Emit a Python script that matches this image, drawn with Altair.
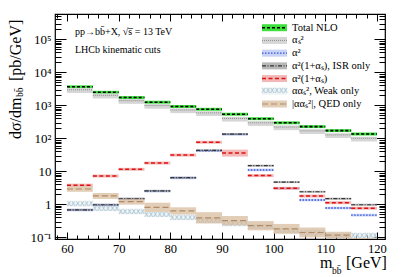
import altair as alt
import pandas as pd

# ---------------- data ----------------
bin_lo = [60, 65, 70, 75, 80, 85, 90, 95, 100, 105, 110, 115]
bin_hi = [65, 70, 75, 80, 85, 90, 95, 100, 105, 110, 115, 120]

total_nlo = [3640, 2480, 1720, 1240, 920, 757, 537, 393, 295, 226, 171, 135]
alphas2 = [2950, 2010, 1380, 980, 720, 590, 400, 295, 220, 168, 127, 100]
alpha2 = [0.67, 0.95, 1.45, 2.5, 6.3, 42, 132, 11, 3.05, 1.35, 0.77, 0.47]
isr_only = [0.68, 0.97, 1.48, 2.55, 6.4, 43, 134, 14.8, 4.7, 2.4, 1.48, 0.97]
alpha2_nlo = [3.8, 7.2, 11.5, 17.8, 31, 76, 36, 7.4, 3.05, 1.78, 1.12, 0.76]
weak_only = [0.99, 0.72, 0.58, 0.49, 0.385, 0.31, 0.25, 0.205, 0.155, 0.135, 0.11, 0.11]
qed_only = [2.91, 1.79, 1.2, 0.81, 0.63, 0.39, 0.32, 0.225, 0.18, 0.14, 0.117, 0.075]

# band half-widths (in decades) : (up, down)
total_err = ([0.045] * 12, [0.045] * 12)
alphas2_err = ([0.05] * 12, [0.095] * 12)
alpha2_err = ([0.04] * 12, [0.04] * 12)
isr_err = ([0.03] * 12, [0.03] * 12)
alpha2_nlo_err = ([0.045] * 6 + [0.1] + [0.045] * 5, [0.045] * 6 + [0.11] + [0.045] * 5)
weak_err = ([0.07] * 12, [0.07] * 12)
qed_err = ([0.085, 0.09, 0.09, 0.14, 0.11, 0.17, 0.14, 0.14, 0.15, 0.15, 0.1, 0.1],
           [0.085, 0.09, 0.09, 0.14, 0.11, 0.17, 0.14, 0.14, 0.15, 0.15, 0.1, 0.1])

legend_labels = ["Total NLO", "αₛ²", "α²", "α²(1+αₛ), ISR only", "α²(1+αₛ)",
                 "ααₛ², Weak only", "|ααₛ²|, QED only"]

x_major = [60, 70, 80, 90, 100, 110, 120]
x_minor = [58, 62, 64, 66, 68, 72, 74, 76, 78, 82, 84, 86, 88, 92, 94, 96, 98,
           102, 104, 106, 108, 112, 114, 116, 118]
y_major = [0.1, 1, 10, 100, 1000, 10000, 100000]
y_label_text = {0.1: "10⁻¹", 1: "1", 10: "10", 100: "10²", 1000: "10³",
                10000: "10⁴", 100000: "10⁵"}

# ---------------- layout ----------------
W, H = 330, 225
FONT = "Liberation Serif"
xscale = alt.Scale(domain=[57.68, 121.55], nice=False, zero=False)
yscale = alt.Scale(type="log", domain=[0.0888, 5.85e5], nice=False)
PXS = alt.Scale(domain=[0, W], range=[0, W])
PYS = alt.Scale(domain=[0, H], range=[0, H])

y_minor = []
for e in range(-1, 6):
    for k in range(2, 10):
        v = round(k * 10 ** e, 6)
        if v < 5.85e5:
            y_minor.append(v)


def frame(name, vals, err):
    up, dn = err
    return pd.DataFrame({
        "series": name,
        "lo": bin_lo, "hi": bin_hi, "val": vals,
        "blo": [v / 10 ** d for v, d in zip(vals, dn)],
        "bhi": [v * 10 ** u for v, u in zip(vals, up)],
    })


series = [
    # name, values, err, band colour, band opacity, line colour, dash, line width
    ("Total NLO", total_nlo, total_err, "#3ee03e", 1.0, "#000000", [3, 2], 1.6),
    ("αₛ²", alphas2, alphas2_err, "#d6d6d6", 1.0, "#8a8a8a", [1, 1], 1.0),
    ("α²", alpha2, alpha2_err, "#bcc8f4", 0.8, "#3355dd", [1.5, 1.5], 1.4),
    ("ISR", isr_only, isr_err, "#9a9a9a", 0.7, "#333333", [4, 1.5, 1, 1.5], 1.2),
    ("red", alpha2_nlo, alpha2_nlo_err, "#eea0a0", 0.75, "#dd1111", [4, 2.5], 1.5),
    ("QED", qed_only, qed_err, "#d8bc9f", 0.75, "#b08a66", [6, 3], 1.2),
]

X = lambda f, **kw: alt.X(f, scale=xscale, **kw)
Y = lambda f, **kw: alt.Y(f, scale=yscale, **kw)

layers = []
for name, vals, err, bcol, bop, lcol, dash, lw in series:
    df = frame(name, vals, err)
    base = alt.Chart(df)
    layers.append(base.mark_rect(color=bcol, opacity=bop, clip=True).encode(
        x=X("lo:Q", axis=None), x2="hi:Q", y=Y("blo:Q", axis=None), y2="bhi:Q"))
    layers.append(base.mark_rule(color=lcol, strokeDash=dash, strokeWidth=lw, clip=True).encode(
        x=X("lo:Q", axis=None), x2="hi:Q", y=Y("val:Q", axis=None)))
    if name == "red":
        wdf = frame("weak", weak_only, weak_err)
        wdf["mid"] = [(a + b) / 2 for a, b in zip(bin_lo, bin_hi)]
        wdf["hatch"] = "XXXXXX"
        wb = alt.Chart(wdf)
        layers.append(wb.mark_rect(color="#dce8ee", opacity=0.5, clip=True).encode(
            x=X("lo:Q", axis=None), x2="hi:Q", y=Y("blo:Q", axis=None), y2="bhi:Q"))
        layers.append(wb.mark_text(font="DejaVu Sans Mono", fontSize=7.3, color="#a3bfcd",
                                   baseline="middle", clip=True).encode(
            x=X("mid:Q", axis=None), y=Y("val:Q", axis=None), text="hatch:N"))

# ---------- axes: labels + inward ticks ----------
tdf = frame("t", total_nlo, total_err)
tbase = alt.Chart(tdf).mark_point(opacity=0)

common = dict(grid=False, domain=False, title=None, tickColor="black", tickWidth=1)
label_ax = tbase.encode(
    x=X("lo:Q", axis=alt.Axis(orient="bottom", values=x_major, ticks=False, labelPadding=3,
                               labelFont=FONT, labelFontSize=12.5, labelColor="black",
                               grid=False, domain=False, title=None)),
    y=Y("val:Q", axis=alt.Axis(orient="left", values=y_major, ticks=False, labelPadding=4,
                                labelFont=FONT, labelFontSize=13, labelColor="black",
                                labelExpr=" : ".join(
                                    [f"datum.value == {k} ? '{v}'" for k, v in y_label_text.items()]) + " : ''",
                                grid=False, domain=False, title=None)))
layers.append(label_ax)

for (xo, yo, xv, yv, xs, ys) in [
    ("top", "right", x_major, y_major, 7, 11),
    ("top", "right", x_minor, y_minor, 4, 6),
    ("bottom", "left", x_major, y_major, 7, 11),
    ("bottom", "left", x_minor, y_minor, 4, 6),
]:
    layers.append(tbase.encode(
        x=X("lo:Q", axis=alt.Axis(orient=xo, offset=-H, values=xv, tickSize=xs, labels=False, **common)),
        y=Y("val:Q", axis=alt.Axis(orient=yo, offset=-W, values=yv, tickSize=ys, labels=False, **common)),
    ))

main = alt.layer(*layers).resolve_axis(x="independent", y="independent")

# ---------------- legend + annotations (pixel space) ----------------
ldf = pd.DataFrame({"label": legend_labels})
lscale = alt.Scale(type="point", domain=legend_labels, range=[13.7, 90], padding=0)
LY = alt.Y("label:N", scale=lscale, axis=None)

leg_style = [
    ("#3ee03e", 1.0, "#000000", [3, 2], 1.6),
    ("#d6d6d6", 1.0, "#8a8a8a", [1, 1], 1.0),
    ("#bcc8f4", 0.8, "#3355dd", [1.5, 1.5], 1.4),
    ("#9a9a9a", 0.7, "#333333", [4, 1.5, 1, 1.5], 1.2),
    ("#eea0a0", 0.75, "#dd1111", [4, 2.5], 1.5),
    (None, 0, None, None, 0),
    ("#d8bc9f", 0.75, "#b08a66", [6, 3], 1.2),
]
leg_layers = []
for lab, (bcol, bop, lcol, dash, lw) in zip(legend_labels, leg_style):
    one = alt.Chart(ldf[ldf.label == lab])
    if bcol is None:
        one2 = ldf[ldf.label == lab].assign(hatch="XXXXXX")
        leg_layers.append(alt.Chart(one2).mark_rule(color="#dce8ee", opacity=0.5, strokeWidth=7,
                                                    strokeCap="butt").encode(
            x=alt.value(207), x2=alt.value(232), y=LY))
        leg_layers.append(alt.Chart(one2).mark_text(
            font="DejaVu Sans Mono", fontSize=7.3, color="#a3bfcd", baseline="middle").encode(
            x=alt.value(219.5), y=LY, text="hatch:N"))
        continue
    leg_layers.append(one.mark_rule(color=bcol, opacity=bop, strokeWidth=7, strokeCap="butt").encode(
        x=alt.value(207), x2=alt.value(232), y=LY))
    leg_layers.append(one.mark_rule(color=lcol, strokeDash=dash, strokeWidth=lw).encode(
        x=alt.value(207), x2=alt.value(232), y=LY))

leg_layers.append(alt.Chart(ldf).mark_text(
    align="left", baseline="middle", font=FONT, fontSize=10.5, color="black").encode(
    x=alt.value(237), y=LY, text="label:N"))

ann = pd.DataFrame({"t": ["pp→bb̄+X, √s̅ = 13 TeV", "LHCb kinematic cuts"], "yy": [18, 36]})
leg_layers.append(alt.Chart(ann).mark_text(
    align="left", baseline="middle", font=FONT, fontSize=10, color="black").encode(
    x=alt.value(20), y=alt.Y("yy:Q", scale=PYS, axis=None), text="t:N"))

# axis titles (main text and subscript pieces)
ytitle = pd.DataFrame({"t": ["dσ/dm", "bb̄", "[pb/GeV]"], "px": [-39, -35, -39],
                       "py": [125, 83, 67], "fs": [16, 9.5, 16]})
leg_layers.append(alt.Chart(ytitle).mark_text(
    angle=270, align="left", baseline="middle", font=FONT, color="black").encode(
    x=alt.X("px:Q", scale=PXS, axis=None),
    y=alt.Y("py:Q", scale=PYS, axis=None),
    text="t:N", size=alt.Size("fs:Q", scale=None, legend=None)))

xtitle = pd.DataFrame({"t": ["m", "bb̄", "[GeV]"], "px": [265, 277, 291], "py": [249, 257, 249],
                       "fs": [16, 9.5, 16]})
leg_layers.append(alt.Chart(xtitle).mark_text(
    align="left", baseline="middle", font=FONT, color="black").encode(
    x=alt.X("px:Q", scale=PXS, axis=None),
    y=alt.Y("py:Q", scale=PYS, axis=None),
    text="t:N", size=alt.Size("fs:Q", scale=None, legend=None)))

overlay = alt.layer(*leg_layers)

chart = alt.layer(main, overlay).resolve_scale(x="independent", y="independent").properties(
    width=W, height=H,
    autosize=alt.AutoSizeParams(type="none"),
    padding={"left": 47, "top": 6, "right": 14, "bottom": 40},
).configure_view(stroke="black", strokeWidth=1.2)

chart.save("out.html", embed_options={"renderer": "svg", "actions": False})
